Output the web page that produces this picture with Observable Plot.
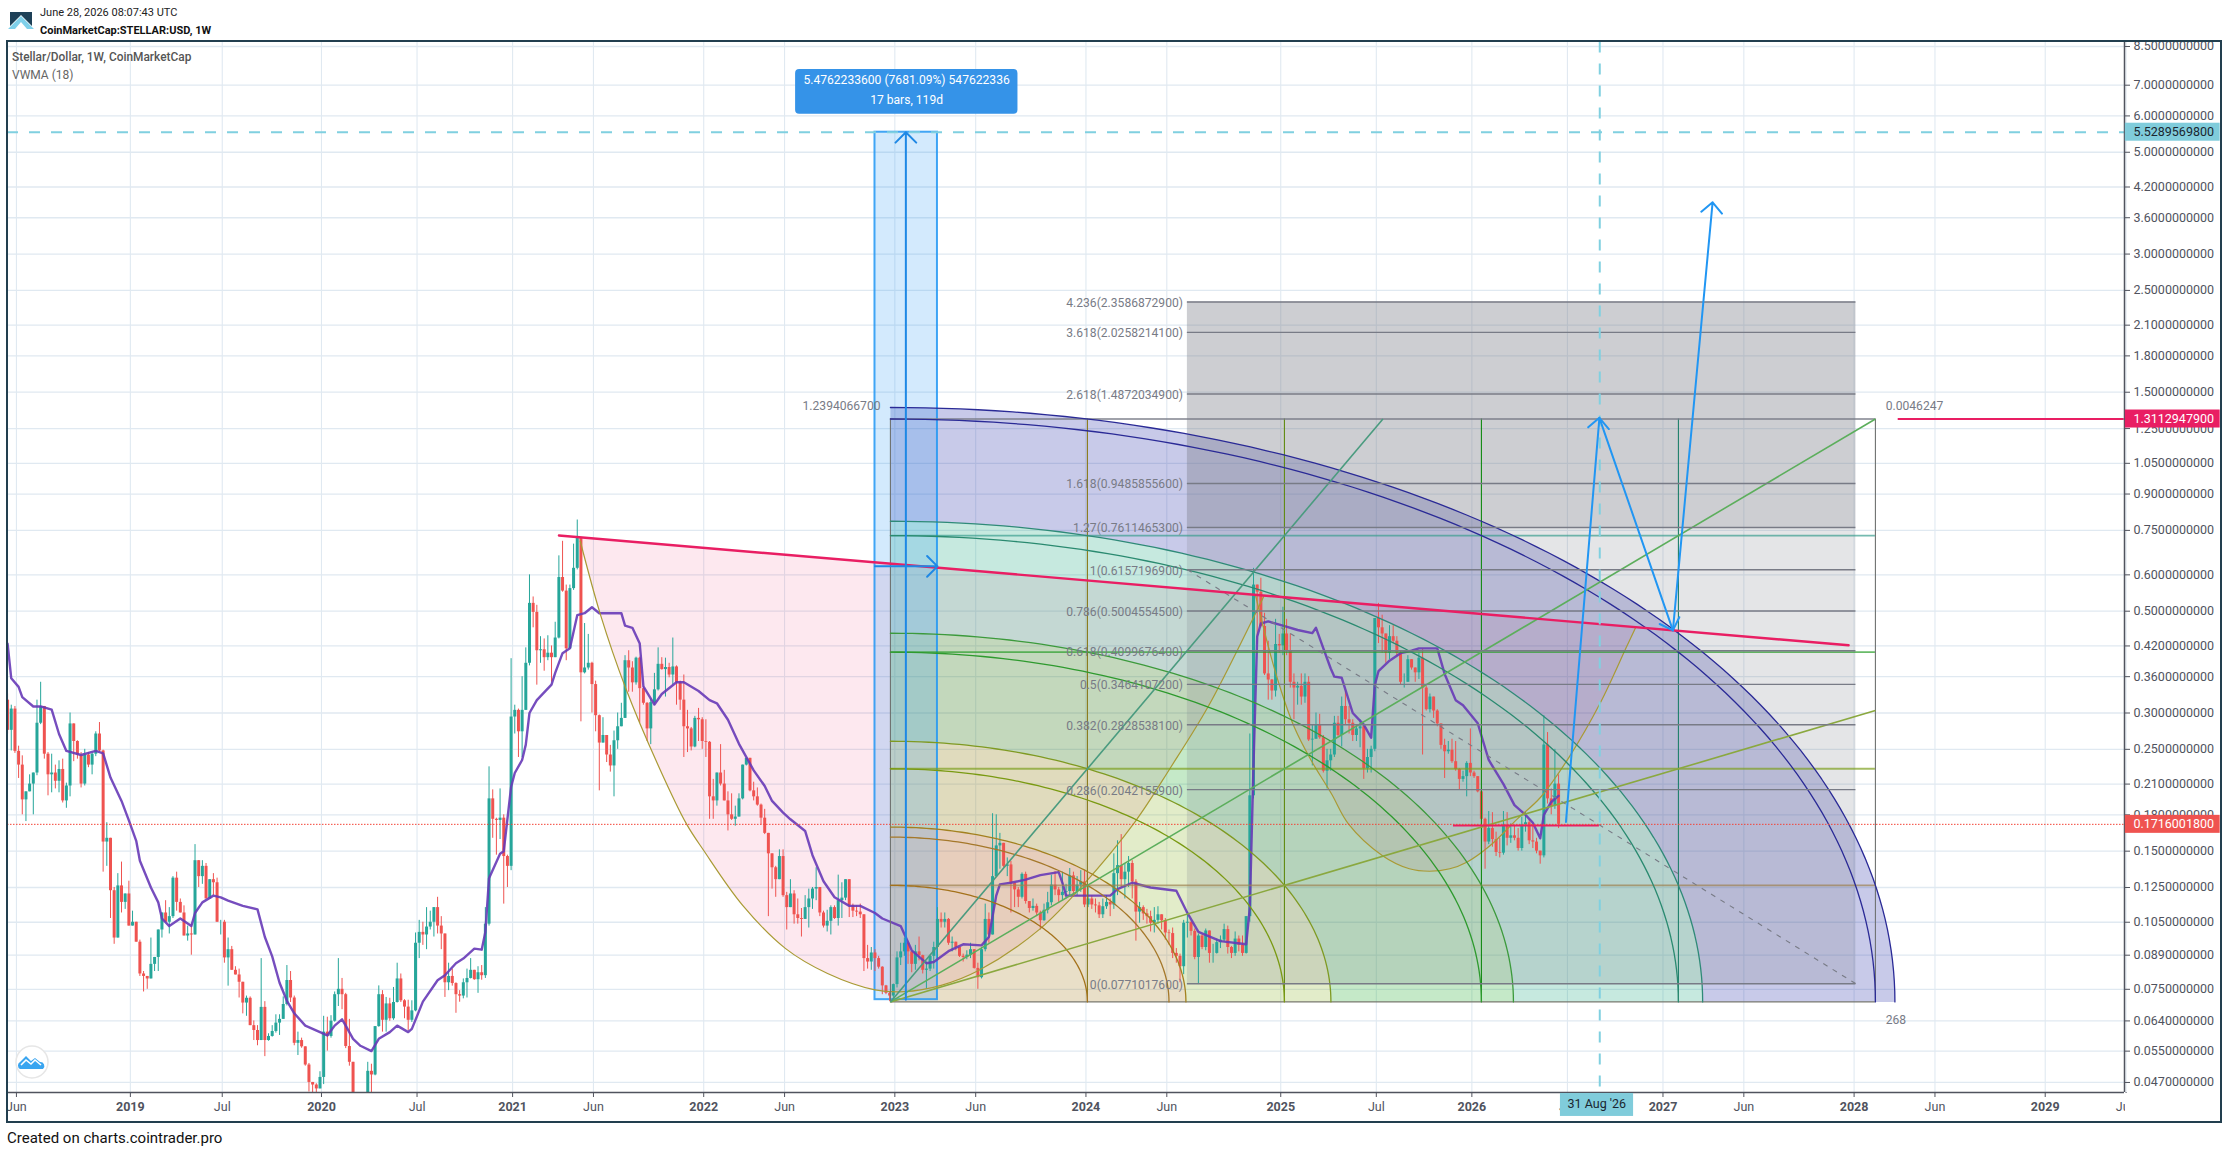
<!DOCTYPE html>
<html><head><meta charset="utf-8">
<script src="https://cdn.jsdelivr.net/npm/d3@7"></script>
<script src="https://cdn.jsdelivr.net/npm/@observablehq/plot@0.6"></script>
<style>
html,body{margin:0;padding:0;background:#fff;width:2226px;height:1152px;overflow:hidden;font-family:Roboto,sans-serif}
#chart{position:absolute;left:0;top:0}
.h{position:absolute;white-space:nowrap;pointer-events:none}
#frame{position:absolute;left:6px;top:40px;width:2212px;height:1079px;border:2.5px solid #223f4f;pointer-events:none}
#rb{position:absolute;left:2125px;top:1093px;width:94px;height:26px;background:#fff}
</style></head><body>
<div id="chart"></div>
<div id="rb"></div><div id="frame"></div>
<svg class="h" style="left:8px;top:11px" width="26" height="19" viewBox="0 0 26 19"><path d="M2 1H24V15L13 4 2 15Z" fill="#1d4057"/><path d="M0 18L13 5 26 18H19L13 11 7 18Z" fill="#7fd0ea"/></svg>
<div class="h" style="left:40px;top:6px;font-size:11px;color:#222">June 28, 2026 08:07:43 UTC</div>
<div class="h" style="left:40px;top:24px;font-size:11px;font-weight:700;color:#111">CoinMarketCap:STELLAR:USD, 1W</div>
<div class="h" style="left:12px;top:50px;font-size:11.9px;font-weight:500;color:#555">Stellar/Dollar, 1W, CoinMarketCap</div>
<div class="h" style="left:12px;top:68px;font-size:12px;color:#666">VWMA (18)</div>
<div class="h" style="left:7px;top:1129px;font-size:15px;color:#111">Created on charts.cointrader.pro</div>
<svg class="h" style="left:15px;top:1045px" width="34" height="34" viewBox="0 0 34 34"><circle cx="17" cy="17" r="16" fill="#fff" stroke="#e6e6e6" stroke-width="1.5"/><path d="M5 24a4 4 0 0 1 0-7l6-6 5 5 4-3 5 4a4 4 0 0 1 3 7Z" fill="#3aa5f0"/><path d="M6 20l5-5 5 4 4-4 6 5" fill="none" stroke="#fff" stroke-width="1.6"/></svg>
<script>
// ---------- weekly bars, [close, high, low]; each bar opens at the previous close
const firstBarMonday = "2018-05-21";
const firstOpen = 0.32;
const bars2018 = [[.275,.33,.27],[.306,.312,.248],[.2475,.31,.245],[.231,.254,.216],[.194,.242,.18],[.202,.202,.174],[.21,.22,.202],[.222,.222,.18],[.285,.32,.219],[.31,.35,.283],[.244,.31,.238],[.22,.246,.198],[.222,.244,.201],[.213,.231,.205],[.226,.236,.201],[.193,.238,.191],[.208,.211,.186],[.284,.30,.197],[.26,.284,.235],[.243,.261,.238],[.21,.246,.206],[.243,.25,.208],[.231,.246,.228],[.244,.245,.22],[.27,.273,.241],[.248,.286,.247],[.157,.249,.135],[.16,.173,.139],[.123,.16,.107],[.097,.125,.094],[.126,.134,.097],[.116,.142,.11]];
const bars2019 = [[.121,.121,.112],[.103,.129,.103],[.105,.111,.103],[.095,.105,.095],[.081,.096,.08],[.08,.082,.074],[.079,.08,.075],[.085,.097,.079],[.088,.088,.082],[.101,.101,.082],[.11,.11,.097],[.105,.117,.105],[.108,.113,.099],[.131,.132,.107],[.116,.135,.111],[.11,.118,.11],[.098,.114,.098],[.099,.103,.0955],[.0985,.104,.089],[.143,.155,.0985],[.132,.143,.125],[.139,.143,.127],[.118,.141,.118],[.13,.13,.118],[.128,.134,.12],[.105,.131,.105],[.105,.106,.0985],[.0878,.106,.0855],[.0915,.097,.0762],[.0825,.093,.0825],[.0806,.084,.0806],[.0777,.083,.0718],[.07,.0775,.0663],[.0717,.0725,.0655],[.0625,.0722,.0625],[.061,.064,.058],[.058,.0625,.0565],[.0685,.0875,.058],[.058,.0705,.0535],[.0592,.06,.0578],[.0607,.0625,.059],[.0633,.066,.0602],[.0645,.066,.0595],[.0695,.0722,.0645],[.0784,.0845,.069],[.0718,.082,.0702],[.0572,.0725,.0565],[.058,.0605,.0538],[.0562,.0587,.0558],[.0513,.0562,.051],[.047,.0517,.0448],[.0464,.047,.0445],[.0455,.0467,.0445],[.0482,.0496,.0455]];
const bars2020 = [[.0605,.0655,.0465],[.0592,.0652,.055],[.0639,.0657,.0587],[.073,.074,.0636],[.075,.0875,.0688],[.073,.0792,.0677],[.0563,.0735,.0557],[.052,.0645,.051],[.0385,.052,.034],[.0375,.0415,.033],[.04,.043,.036],[.0415,.044,.0385],[.0497,.052,.041],[.0488,.0515,.0445],[.0622,.0622,.0486],[.073,.0763,.062],[.0642,.0745,.0605],[.0697,.072,.0605],[.0647,.0717,.0639],[.0702,.0757,.0642],[.079,.0855,.07],[.0708,.081,.0702],[.0686,.0712,.0647],[.0642,.071,.061],[.0673,.0708,.0635],[.0945,.0995,.067],[.0998,.106,.0875],[.0985,.105,.0935],[.1025,.113,.0915],[.105,.111,.101],[.113,.113,.0975],[.103,.119,.099],[.099,.108,.0915],[.0775,.099,.072],[.08,.0855,.0745],[.0772,.083,.0762],[.073,.0775,.0665],[.0725,.0745,.0703],[.0775,.079,.0715],[.0792,.083,.0718],[.0825,.0875,.079],[.0787,.0825,.0785],[.0815,.084,.0735],[.0803,.0845,.0785],[.104,.113,.0792],[.195,.229,.103],[.176,.204,.16],[.175,.177,.147],[.177,.205,.159],[.146,.18,.115],[.139,.147,.125]];
const bars2021 = [[.294,.394,.136],[.304,.312,.27],[.273,.306,.24],[.304,.36,.24],[.385,.416,.304],[.52,.6,.38],[.497,.537,.46],[.41,.515,.345],[.412,.44,.385],[.396,.435,.37],[.405,.442,.39],[.396,.42,.35],[.437,.473,.415],[.592,.66,.435],[.553,.71,.55],[.414,.57,.39],[.56,.57,.415],[.62,.70,.555],[.72,.79,.615],[.367,.72,.287],[.376,.47,.365],[.385,.445,.372],[.346,.387,.30],[.296,.352,.273],[.258,.297,.203],[.268,.293,.258],[.243,.268,.234],[.23,.255,.223],[.261,.274,.197],[.28,.30,.25],[.292,.315,.282],[.39,.40,.292],[.376,.41,.333],[.349,.388,.333],[.395,.397,.345],[.339,.397,.285],[.315,.343,.312],[.277,.316,.26],[.316,.322,.256],[.337,.366,.312],[.383,.416,.335],[.373,.396,.372],[.377,.395,.325],[.363,.385,.358],[.378,.437,.346],[.349,.38,.312],[.32,.352,.304],[.28,.363,.24],[.277,.304,.246],[.253,.279,.248],[.292,.295,.252],[.29,.307,.26]];
const bars2022 = [[.26,.293,.25],[.259,.29,.24],[.197,.26,.176],[.193,.215,.176],[.222,.222,.188],[.21,.256,.208],[.193,.225,.193],[.18,.202,.166],[.176,.2,.175],[.178,.188,.17],[.195,.2,.178],[.231,.231,.194],[.239,.239,.23],[.203,.239,.202],[.197,.212,.193],[.189,.206,.188],[.177,.19,.171],[.164,.185,.163],[.148,.164,.108],[.138,.148,.124],[.13,.139,.119],[.146,.151,.13],[.12,.151,.119],[.113,.122,.101],[.121,.13,.113],[.109,.123,.104],[.107,.118,.104],[.1065,.1125,.0975],[.113,.12,.1065],[.118,.124,.102],[.124,.125,.112],[.125,.138,.117],[.11,.125,.108],[.103,.111,.102],[.1055,.1115,.1],[.113,.114,.0985],[.107,.114,.1065],[.117,.133,.103],[.1185,.128,.107],[.13,.13,.117],[.114,.13,.1075],[.111,.115,.1075],[.1105,.114,.108],[.109,.115,.107],[.0875,.109,.082],[.086,.0935,.083],[.09,.0925,.0825],[.0875,.0915,.082],[.0838,.0885,.083],[.0763,.084,.073],[.0735,.0765,.073],[.0725,.074,.0705]];
const bars2023 = [[.0768,.077,.0717],[.0878,.0905,.0755],[.0905,.0945,.0845],[.0945,.097,.0885],[.0905,.0945,.085],[.085,.0905,.0815],[.0905,.0935,.0825],[.0888,.0975,.0865],[.0825,.089,.081],[.083,.086,.075],[.0885,.089,.082],[.0925,.095,.083],[.1065,.113,.0875],[.105,.11,.102],[.1065,.11,.102],[.0945,.107,.0935],[.095,.0975,.0905],[.0925,.095,.091],[.0885,.0925,.088],[.088,.0895,.086],[.089,.091,.087],[.0915,.0945,.0875],[.0833,.0915,.083],[.0795,.0855,.075],[.0915,.0925,.079],[.1065,.115,.0905],[.0985,.11,.0945],[.132,.181,.0985],[.154,.18,.1315],[.156,.164,.137],[.139,.156,.138],[.14,.145,.132],[.1275,.1425,.11],[.1235,.128,.113],[.119,.125,.113],[.1335,.1345,.118],[.1165,.135,.115],[.1125,.116,.11],[.1137,.118,.111],[.11,.115,.108],[.1058,.111,.101],[.1115,.115,.1055],[.1158,.122,.1095],[.1265,.133,.114],[.1235,.1355,.12],[.12,.125,.116],[.122,.135,.117],[.1225,.127,.118],[.1325,.1375,.12],[.1225,.135,.119],[.1265,.132,.12],[.1285,.136,.122]];
const bars2024 = [[.1145,.136,.113],[.118,.125,.113],[.1145,.12,.112],[.114,.118,.11],[.109,.116,.107],[.1135,.118,.107],[.116,.12,.112],[.1145,.118,.108],[.134,.148,.112],[.1395,.158,.12],[.13,.163,.125],[.135,.141,.118],[.141,.146,.125],[.1285,.143,.118],[.1105,.13,.0955],[.113,.116,.1045],[.1095,.114,.106],[.108,.112,.104],[.1045,.111,.1],[.106,.113,.0995],[.109,.1135,.104],[.1058,.109,.101],[.0995,.107,.096],[.0992,.101,.0936],[.0898,.102,.0875],[.0885,.092,.0855],[.084,.0895,.0775],[.1045,.106,.0807],[.105,.1105,.097],[.1003,.105,.098],[.088,.1015,.087],[.098,.099,.0768],[.0925,.0985,.0915],[.1005,.1015,.091],[.0898,.1005,.0855],[.0898,.094,.0855],[.0948,.0965,.0895],[.096,.098,.092],[.1012,.104,.095],[.0925,.103,.0895],[.0898,.093,.0875],[.0965,.1,.0885],[.0935,.098,.0905],[.0898,.098,.0885],[.108,.108,.0895],[.198,.27,.105],[.57,.62,.195],[.55,.565,.423],[.463,.59,.46],[.365,.495,.362],[.354,.43,.32],[.335,.355,.32],[.423,.48,.325]];
const bars2025 = [[.42,.445,.405],[.446,.51,.4],[.41,.48,.4],[.35,.446,.34],[.34,.365,.29],[.343,.35,.312],[.325,.365,.312],[.35,.365,.315],[.262,.36,.26],[.263,.283,.23],[.283,.30,.263],[.265,.298,.263],[.224,.268,.222],[.236,.25,.205],[.243,.25,.224],[.285,.295,.24],[.268,.295,.266],[.31,.325,.253],[.29,.335,.283],[.285,.31,.27],[.268,.29,.26],[.277,.283,.26],[.28,.29,.252],[.227,.26,.215],[.24,.25,.222],[.25,.254,.222],[.482,.482,.247],[.46,.52,.425],[.446,.49,.405],[.405,.446,.385],[.44,.465,.392],[.43,.465,.425],[.405,.44,.398],[.35,.41,.345],[.35,.365,.34],[.392,.40,.36],[.376,.392,.372],[.367,.376,.35],[.395,.405,.355],[.34,.413,.243],[.305,.343,.303],[.325,.33,.30],[.303,.325,.292],[.284,.305,.28],[.255,.283,.25],[.247,.263,.216],[.249,.26,.244],[.235,.263,.233],[.226,.26,.224],[.215,.227,.204],[.218,.224,.212],[.233,.235,.197],[.222,.277,.218]];
const bars2026 = [[.218,.224,.216],[.202,.218,.201],[.176,.203,.175],[.157,.177,.137],[.168,.183,.155],[.159,.182,.153],[.149,.165,.146],[.1485,.16,.145],[.171,.183,.147],[.16,.182,.154],[.162,.172,.156],[.16,.17,.158],[.152,.168,.15],[.171,.178,.15],[.173,.183,.165],[.158,.176,.155],[.157,.17,.152],[.15,.16,.148],[.1465,.15,.1405],[.2555,.296,.145],[.195,.272,.19],[.188,.205,.18],[.21,.25,.185],[.1716,.22,.168]];
// VWMA (18): bar number and value
const vwmaBars = [0,1,3,4,7,9,12,14,16,20,24,26,28,31,33,35,36,39,41,42,44,47,50,51,53,56,58,60,64,68,70,72,74,76,78,81,85,87,89,91,92,94,96,99,101,104,106,109,110,113,117,119,122,124,127,129,130,131,134,135,137,138,140,141,142,144,148,149,151,153,155,157,159,161,167,168,170,172,173,176,178,182,184,188,191,193,196,199,203,206,208,211,213,217,219,222,225,229,232,236,238,243,246,250,252,256,260,265,267,269,270,273,277,281,286,287,288,293,300,302,306,311,318,321,324,330,337,338,339,340,341,343,347,351,355,356,358,360,361,363,366,369,371,372,373,376,379,382,384,389,391,394,396,400,403,407,410,413,415,417,418,420,422];
const vwmaValues = [.425,.357,.342,.325,.31,.31,.305,.27,.248,.243,.248,.245,.217,.193,.175,.158,.143,.125,.116,.107,.103,.107,.103,.11,.116,.12,.119,.117,.114,.112,.0975,.0885,.0775,.0708,.0665,.0625,.0605,.0595,.0625,.0645,.0625,.0585,.0565,.055,.0585,.0605,.0625,.0605,.0615,.0705,.0785,.0805,.0855,.0875,.092,.0915,.1,.131,.148,.15,.207,.222,.237,.256,.30,.32,.346,.367,.405,.415,.49,.495,.51,.495,.495,.465,.46,.425,.343,.313,.33,.35,.35,.335,.32,.315,.29,.257,.225,.208,.193,.182,.176,.166,.147,.129,.119,.114,.114,.11,.107,.103,.0912,.0855,.086,.0908,.094,.0935,.0975,.12,.127,.128,.13,.133,.135,.128,.12,.12,.12,.124,.128,.125,.123,.11,.1,.0955,.094,.113,.232,.44,.47,.475,.465,.455,.448,.46,.415,.375,.36,.358,.30,.283,.265,.345,.37,.39,.405,.41,.415,.415,.365,.32,.312,.285,.237,.21,.189,.18,.173,.16,.18,.192,.198];
// axis ticks
const priceTicks = [8.5,7,6,5,4.2,3.6,3,2.5,2.1,1.8,1.5,1.25,1.05,.9,.75,.6,.5,.42,.36,.3,.25,.21,.18,.15,.125,.105,.089,.075,.064,.055,.047];
const yearTicks = [["2019-01-07","2019"],["2020-01-06","2020"],["2021-01-04","2021"],["2022-01-03","2022"],["2023-01-02","2023"],["2024-01-01","2024"],["2025-01-06","2025"],["2026-01-05","2026"],["2027-01-04","2027"],["2028-01-03","2028"],["2029-01-01","2029"]];
const monthTicks = [["2018-06-04","Jun"],["2019-07-01","Jul"],["2020-07-06","Jul"],["2021-06-07","Jun"],["2022-06-06","Jun"],["2023-06-05","Jun"],["2024-06-03","Jun"],["2025-07-07","Jul"],["2026-07-06","Jul"],["2027-06-07","Jun"],["2028-06-05","Jun"],["2029-06-04","Jun"]];
// Fibonacci retracement
const fibRatios = ["4.236","3.618","2.618","1.618","1.27","1","0.786","0.618","0.5","0.382","0.286","0"];
const fibPrices = [2.35868729,2.02582141,1.48720349,.94858556,.76114653,.61571969,.50045545,.40996764,.34641072,.28285381,.20421559,.07710176];
const fibBars = [320.6,502.5];
const fibBandEdges = [[2.35868729,.76114653],[.76114653,.07710176]];
// Gann box
const gannStartBar = 239.8, gannBarCount = 268, gannLow = .0704, gannHigh = 1.3113;
const gannArcs = [.2,.2828,.3,.4,.4472,.6,.6325,.8,.8246,1,1.0198];
const gannArcColors = ["#a4721b","#a5782a","#a3811f","#7a9a12","#7f9a22","#2e9a2e","#3c9a3c","#2a8a70","#2f8a78","#2a2a96","#2a2a96"];
const gannBandEdges = [0,.3,.4472,.6325,.8246,1.0198];
const gannBandColors = ["#a77f23","#8bb327","#17a723","#1ba77f","#232ba7"];
const gannGrid = [.2,.4,.6,.8,1];
const gannHColors = ["#9c8150","#7ea020","#2a9e2a","#3b9e8f","#787b86"];
const gannVColors = ["#8b7a1a","#5f8a10","#128a12","#1e7f6a","#6f7270"];
const gannFans = [[1,.5,"#8aa83f"],[1,1,"#5cae5c"],[.5,1,"#4a9b7f"]];
// hand-drawn curves: bar number, price
const pinkBars1 = [155,155.4,160.9,167.7,176.9,184.3,189,199.6,211.2,222.7,235.6,243.4,253.6,263.9,280.6,292.2,306.4,316,326.3,338.6,341.5];
const pinkPrices1 = [.725,.711,.4915,.341,.228,.172,.1505,.1143,.0921,.0812,.0748,.0741,.0765,.0825,.1017,.1265,.174,.228,.3103,.4845,.541];
const pinkBars2 = [339.1,344.7,349.7,354.3,359.8,364.4,373.6,381,386.5,392,396.6,403,410.4,416.7,424.6,433,440,442.6];
const pinkPrices2 = [.543,.3649,.2792,.2363,.2,.172,.1468,.1373,.1356,.1373,.1419,.1543,.1764,.1966,.2414,.3161,.4166,.4613];
const trendBars = [149.6,500.5], trendPrices = [.731,.4214];
const pathBars = [423.6,432.7,452.7,463.5], pathPrices = [.1737,1.319,.454,3.89];
const rangeBars = [235.6,252.6], rangeMidBar = 244, rangePrices = [.0712,5.529], rangeMidPrice = .6262;
const crossBar = 432.8, crossPrice = 5.52895698, lastPrice = .17160018, tagPriceGann = 1.31129479;
const supportBars = [393,432.7], supportPrice = .1706;

// ---------- helpers
const DAY = 864e5, t0 = Date.parse(firstBarMonday);
const barDate = k => new Date(t0 + k*7*DAY);
const iso = s => new Date(s);
const allBars = [...bars2018,...bars2019,...bars2020,...bars2021,...bars2022,...bars2023,...bars2024,...bars2025,...bars2026];
const candles = allBars.map(([close,high,low],i,a)=>{
  const open = i ? a[i-1][0] : firstOpen;
  return {date:barDate(i),open,close,high:Math.max(high,open,close),low:Math.min(low,open,close),color:close>=open?"#26a69a":"#ef5350"};
});
const pts = (bars,prices)=>bars.map((b,i)=>({x:barDate(b),y:prices[i]}));
const gx = f => barDate(gannStartBar+gannBarCount*f);
const gy = f => gannLow*Math.pow(gannHigh/gannLow,f);
const arc = r => d3.range(0,90.01,1).map(a=>({x:gx(r*Math.cos(a*Math.PI/180)),y:gy(r*Math.sin(a*Math.PI/180))}));
const gannBands = gannBandColors.map((color,i)=>{
  const outer = arc(gannBandEdges[i+1]), inner = gannBandEdges[i] ? arc(gannBandEdges[i]).reverse() : [{x:gx(0),y:gy(0)}];
  return {color,poly:[...outer,...inner]};
});
const rightBars = [575.8,601.6], tagTextBar = 578, tagPad = 1.0462;
const tags = [
  {p:crossPrice,fill:"#80ccdb",ink:"#1a2630"},
  {p:tagPriceGann,fill:"#e91e63",ink:"#fff"},
  {p:lastPrice,fill:"#ef5350",ink:"#fff"}
];
const clip = true;
const blue = "#2196f3", cyan = "#80d0e0", labelGrey = "#787b86";

const marks = [
  Plot.gridX(yearTicks.concat(monthTicks).map(d=>iso(d[0])),{stroke:"#e0e9f1",strokeOpacity:1,strokeWidth:1.1}),
  Plot.gridY(priceTicks,{stroke:"#e0e9f1",strokeOpacity:1,strokeWidth:1.3}),
  // curved zones
  Plot.line(pts(pinkBars1,pinkPrices1),{x:"x",y:"y",fill:"#e91e63",fillOpacity:.1,stroke:"none",curve:"catmull-rom",clip}),
  Plot.line(pts(pinkBars2,pinkPrices2),{x:"x",y:"y",fill:"#e91e63",fillOpacity:.1,stroke:"none",curve:"catmull-rom",clip}),
  // gann fills
  ...gannBands.map(b=>Plot.line(b.poly,{x:"x",y:"y",fill:b.color,fillOpacity:.25,stroke:"none",clip})),
  // fib fills
  Plot.rect(fibBandEdges,{x1:()=>barDate(fibBars[0]),x2:()=>barDate(fibBars[1]),y1:d=>d[0],y2:d=>d[1],fill:"#787b86",fillOpacity:(d,i)=>i?.2:.37,clip}),
  // range fill
  Plot.rect([rangePrices],{x1:()=>barDate(rangeBars[0]),x2:()=>barDate(rangeBars[1]),y1:d=>d[0],y2:d=>d[1],fill:blue,fillOpacity:.2,stroke:blue,strokeOpacity:.85,strokeWidth:2}),
  // candles
  Plot.ruleX(candles,{x:"date",y1:"low",y2:"high",stroke:"color",strokeWidth:1,dx:-1.5,clip}),
  Plot.ruleX(candles,{x:"date",y1:"open",y2:"close",stroke:"color",strokeWidth:3,dx:-1.5,clip}),
  Plot.line(pts(vwmaBars,vwmaValues),{x:"x",y:"y",stroke:"#673ab7",strokeWidth:2.4,strokeOpacity:.9,dx:-1.5,curve:"linear",clip}),
  // curve outlines
  Plot.line(pts(pinkBars1.slice(1),pinkPrices1.slice(1)),{x:"x",y:"y",stroke:"#a99a34",strokeWidth:1.2,curve:"catmull-rom",clip}),
  Plot.line(pts(pinkBars2,pinkPrices2),{x:"x",y:"y",stroke:"#a99a34",strokeWidth:1.2,curve:"catmull-rom",clip}),
  // gann box lines
  Plot.ruleX(gannGrid,{x:gx,y1:()=>gy(0),y2:()=>gy(1),stroke:(d,i)=>gannVColors[i],strokeWidth:1.1}),
  Plot.ruleY(gannGrid,{y:gy,x1:()=>gx(0),x2:()=>gx(1),stroke:(d,i)=>gannHColors[i],strokeWidth:1.8,strokeOpacity:.7}),
  Plot.ruleX([0],{x:gx,y1:()=>gy(0),y2:()=>gy(1),stroke:"#6f7270",strokeWidth:1.1}),
  Plot.ruleY([0],{y:gy,x1:()=>gx(0),x2:()=>gx(1),stroke:"#7a7a70",strokeWidth:1.4}),
  ...gannArcs.map((r,i)=>Plot.line(arc(r),{x:"x",y:"y",stroke:gannArcColors[i],strokeWidth:1.3,clip})),
  Plot.link(gannFans,{x1:()=>gx(0),y1:()=>gy(0),x2:d=>gx(d[0]),y2:d=>gy(d[1]),stroke:d=>d[2],strokeWidth:1.6}),
  // fib lines
  Plot.ruleY(fibPrices,{x1:()=>barDate(fibBars[0]),x2:()=>barDate(fibBars[1]),stroke:labelGrey,strokeWidth:1.4}),
  Plot.link([0],{x1:()=>barDate(fibBars[0]),y1:()=>fibPrices[5],x2:()=>barDate(fibBars[1]),y2:()=>fibPrices[11],stroke:labelGrey,strokeWidth:1.1,strokeDasharray:"5,6"}),
  Plot.text(fibPrices,{x:()=>barDate(319.4),y:d=>d,dy:1,text:(d,i)=>`${fibRatios[i]}(${d.toFixed(10)})`,textAnchor:"end",fill:labelGrey,fontSize:12.1}),
  // trend line, support, reference lines
  Plot.line(pts(trendBars,trendPrices),{x:"x",y:"y",stroke:"#e91e63",strokeWidth:2.4}),
  Plot.ruleY([tagPriceGann],{x1:()=>barDate(514),x2:()=>barDate(575.5),stroke:"#e91e63",strokeWidth:2}),
  Plot.ruleY([supportPrice],{x1:()=>barDate(supportBars[0]),x2:()=>barDate(supportBars[1]),stroke:"#e91e63",strokeWidth:2}),
  Plot.ruleY([lastPrice],{stroke:"#f44336",strokeWidth:1,strokeDasharray:"1.5,1.5"}),
  Plot.ruleY([crossPrice],{stroke:cyan,strokeWidth:2,strokeDasharray:"11,11"}),
  Plot.ruleX([barDate(crossBar)],{stroke:cyan,strokeWidth:2,strokeDasharray:"11,11"}),
  // price range arrows
  Plot.arrow([0],{x1:()=>barDate(rangeMidBar),y1:()=>rangePrices[0],x2:()=>barDate(rangeMidBar),y2:()=>rangePrices[1],stroke:"#1e88e5",strokeWidth:2,headLength:11,headAngle:90}),
  Plot.arrow([0],{x1:()=>barDate(rangeBars[0]),y1:()=>rangeMidPrice,x2:()=>barDate(rangeBars[1]),y2:()=>rangeMidPrice,stroke:"#1e88e5",strokeWidth:2,headLength:11,headAngle:90}),
  // forecast path
  Plot.arrow(pathBars.slice(0,-1),{x1:(d)=>barDate(d),y1:(d,i)=>pathPrices[i],x2:(d,i)=>barDate(pathBars[i+1]),y2:(d,i)=>pathPrices[i+1],stroke:blue,strokeWidth:2,headLength:11,headAngle:90}),
  // annotation labels
  Plot.text(["1.2394066700"],{x:()=>barDate(226.5),y:()=>1.396,fill:labelGrey,fontSize:12.1}),
  Plot.text(["0.0046247"],{x:()=>barDate(510.6),y:()=>1.4,textAnchor:"start",fill:labelGrey,fontSize:12.1}),
  Plot.text(["268"],{x:()=>barDate(510.6),y:()=>.0641,textAnchor:"start",fill:labelGrey,fontSize:12.1}),
  Plot.rect([0],{x1:()=>barDate(214),x2:()=>barDate(274.5),y1:()=>6.05,y2:()=>7.57,fill:"#3593e8",rx:4}),
  Plot.text(["5.4762233600 (7681.09%) 547622336"],{x:()=>barDate(244.2),y:()=>7.18,fill:"#fff",fontSize:12.1}),
  Plot.text(["17 bars, 119d"],{x:()=>barDate(244.2),y:()=>6.5,fill:"#fff",fontSize:12.1}),
  // axes
  Plot.ruleX([new Date("2029-06-01")],{stroke:"#50535e",strokeWidth:1.5}),
  Plot.axisY(priceTicks,{anchor:"right",tickSize:5,tickPadding:4,tickFormat:d=>d.toFixed(10),fontSize:12.5,color:"#50535e",label:null}),
  Plot.axisX(monthTicks.map(d=>iso(d[0])),{anchor:"bottom",tickSize:5,tickPadding:5,tickFormat:d=>monthTicks.find(m=>+iso(m[0])==+d)[1],fontSize:12.5,color:"#50535e",label:null}),
  Plot.axisX(yearTicks.map(d=>iso(d[0])),{anchor:"bottom",tickSize:5,tickPadding:5,tickFormat:d=>yearTicks.find(m=>+iso(m[0])==+d)[1],fontSize:12.5,fontWeight:700,color:"#50535e",label:null}),
  Plot.ruleY([.04469],{stroke:"#50535e",strokeWidth:1.5}),
  // value tags
  Plot.rect(tags,{x1:()=>barDate(rightBars[0]),x2:()=>barDate(rightBars[1]),y1:d=>d.p/tagPad,y2:d=>d.p*tagPad,fill:"fill"}),
  Plot.text(tags,{x:()=>barDate(tagTextBar),y:"p",text:d=>d.p.toFixed(10),textAnchor:"start",fill:"ink",fontSize:12.5}),
  // crosshair date tag
  Plot.rect([0],{x1:()=>barDate(422.1),x2:()=>barDate(442),y1:()=>.03963,y2:()=>.04446,fill:"#80ccdb"}),
  Plot.text(["31 Aug '26"],{x:()=>barDate(432),y:()=>.0421,fill:"#1a2630",fontSize:12.5})
];

const chart = Plot.plot({
  width:2226,height:1152,
  marginTop:41.5,marginBottom:60,marginLeft:7,marginRight:102,
  x:{type:"utc",domain:[iso("2018-05-18"),iso("2029-06-01")],axis:null},
  y:{type:"log",domain:[.04469,8.694],axis:null},
  style:{fontFamily:"Roboto,sans-serif",fontSize:"12.5px",background:"transparent"},
  marks
});
document.getElementById("chart").appendChild(chart);
</script>
</body></html>
